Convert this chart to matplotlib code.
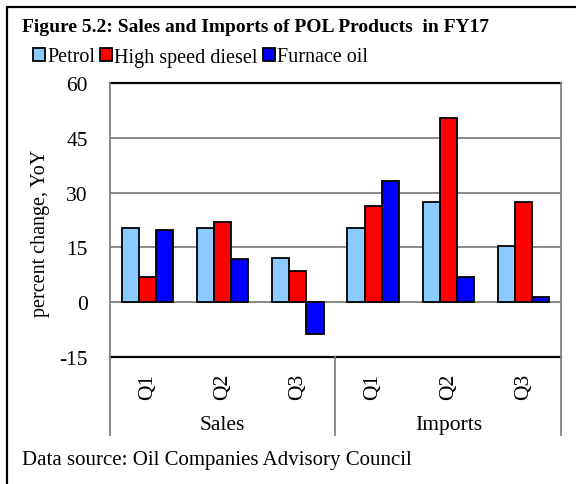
import numpy as np
import matplotlib
matplotlib.use('Agg')
import matplotlib.pyplot as plt
from matplotlib.patches import Patch
from matplotlib.lines import Line2D

plt.rcParams['font.family'] = ['Liberation Serif', 'DejaVu Serif']
plt.rcParams['axes.unicode_minus'] = False

# values (percent change, YoY)
quarters = ['Q1', 'Q2', 'Q3', 'Q1', 'Q2', 'Q3']
groups = ['Sales', 'Imports']
petrol = [20.3, 20.3, 12.2, 20.3, 27.3, 15.4]
hsd = [6.9, 22.0, 8.5, 26.2, 50.5, 27.3]
furnace = [19.8, 11.8, -8.6, 33.2, 6.9, 1.5]
series_names = ['Petrol', 'High speed diesel', 'Furnace oil']
colors = ['#8ccbff', '#ff0000', '#0000ff']

W, H = 576, 485
fig = plt.figure(figsize=(W / 100, H / 100), dpi=100)
ax = fig.add_axes([110 / W, 1 - 358 / H, 451 / W, 274 / H])

x = np.arange(len(quarters))
bw = 0.227
for i, (vals, c) in enumerate(zip([petrol, hsd, furnace], colors)):
    ax.bar(x + (i - 1) * bw, vals, bw, color=c, edgecolor='black',
           linewidth=1.3, zorder=3)

ax.set_xlim(-0.5, 5.5)
ax.set_ylim(-15, 60)
ax.set_yticks(range(-15, 61, 15))
ax.tick_params(axis='y', length=0, pad=16, labelsize=15.5)
ax.set_xticks([])
for yv in (0, 15, 30, 45):
    ax.axhline(yv, color='#808080', linewidth=1.3, zorder=1)

for s in ('left', 'right'):
    ax.spines[s].set_visible(False)
for s in ('top', 'bottom'):
    ax.spines[s].set_color('black')
    ax.spines[s].set_linewidth(1.6)

# vertical lines for the category frame
low = -(436 - 358) / 274
trans = ax.get_xaxis_transform()
for xv in (-0.5, 2.5, 5.5):
    y0 = 1 if xv != 2.5 else 0
    ax.plot([xv, xv], [low, y0], color='#808080', linewidth=1.3,
            transform=trans, clip_on=False, zorder=4)

# rotated quarter labels and group labels
for xi, q in zip(x, quarters):
    ax.text(xi, -0.106, q, rotation=90, ha='center', va='center',
            transform=trans, fontsize=15.5)
for gi, g in enumerate(groups):
    ax.text(gi * 3 + 1, -0.248, g, ha='center', va='center',
            transform=trans, fontsize=15.5)

ax.set_ylabel('percent change, YoY', fontsize=14.5)
ax.yaxis.set_label_coords(-0.133, 0.456)

fig.text(22 / W, 1 - 28 / H, 'Figure 5.2: Sales and Imports of POL Products  in FY17',
         fontsize=14, fontweight='bold', va='center', ha='left')

handles = [Patch(facecolor=c, edgecolor='black', linewidth=1.3) for c in colors]
fig.legend(handles, series_names, loc='center left',
           bbox_to_anchor=(33 / W, 1 - 58 / H), ncol=3, frameon=False,
           fontsize=14.5, handlelength=0.6, handleheight=0.6,
           handletextpad=0.1, columnspacing=0.25, borderpad=0, borderaxespad=0)

fig.text(22 / W, 1 - 461 / H, 'Data source: Oil Companies Advisory Council',
         fontsize=15, va='center', ha='left')

# outer frame: only left and top edges are visible in the crop
fx, fy = 7 / W, 1 - 8 / H
fig.lines.append(Line2D([fx, fx, 1.0], [0, fy, fy], transform=fig.transFigure,
                        color='black', linewidth=1.6))

fig.savefig('out.png', dpi=100)
